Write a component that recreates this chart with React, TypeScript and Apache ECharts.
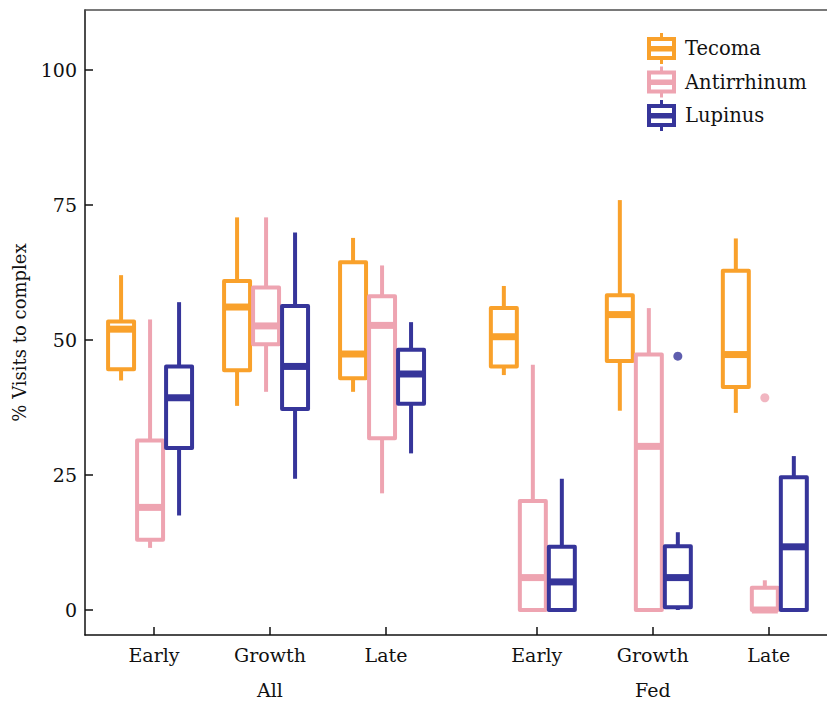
import React, { useEffect, useRef } from "react";
import * as echarts from "echarts";

// ---- data ----
const CATEGORIES = ["Early", "Growth", "Late", "Early", "Growth", "Late"];
const CAT_POS = [1, 2, 3, 4.3, 5.3, 6.3];
const GROUPS = ["All", "Fed"];
const GROUP_POS = [2, 5.3];
const Y_TICKS = [0, 25, 50, 75, 100];
const SPECIES = ["Tecoma", "Antirrhinum", "Lupinus"];

// [min, q1, median, q3, max] per category
const tecoma = [
  [42.5, 44.6, 52.0, 53.4, 62.0],
  [37.8, 44.4, 56.1, 60.9, 72.7],
  [40.4, 42.9, 47.4, 64.4, 68.9],
  [43.5, 45.1, 50.6, 55.9, 60.0],
  [36.9, 46.1, 54.7, 58.3, 75.9],
  [36.5, 41.3, 47.3, 62.8, 68.8],
];
const antirrhinum = [
  [11.5, 13.0, 19.0, 31.4, 53.8],
  [40.4, 49.2, 52.6, 59.7, 72.7],
  [21.6, 31.8, 52.7, 58.1, 63.8],
  [0, 0, 6.0, 20.2, 45.4],
  [0, 0, 30.3, 47.3, 55.9],
  [0, 0, 0, 4.1, 5.5],
];
const lupinus = [
  [17.5, 30.0, 39.3, 45.1, 57.0],
  [24.3, 37.2, 45.1, 56.3, 69.9],
  [29.0, 38.2, 43.7, 48.2, 53.3],
  [0, 0, 5.2, 11.7, 24.3],
  [0, 0.5, 6.0, 11.8, 14.4],
  [0, 0, 11.7, 24.6, 28.5],
];
// outliers: [category index, value]
const tecomaOutliers: number[][] = [];
const antirrhinumOutliers = [[5, 39.3]];
const lupinusOutliers = [[4, 47.0]];

const COLORS = ["#f9a12b", "#eea4b1", "#36359a"];
const OFFSETS = [-0.284, -0.034, 0.216];
const BOX_W = 0.224;

const LEGEND_ICON =
  "path://M0,4 L29,4 L29,27 L0,27 Z M4,8 L4,13 L25,13 L25,8 Z M4,18.5 L4,23 L25,23 L25,18.5 Z M13,0 L16,0 L16,4 L13,4 Z M13,27 L16,27 L16,31 L13,31 Z";

const FONT = "DejaVu Serif";

export default function App() {
  const ref = useRef<HTMLDivElement>(null);
  useEffect(() => {
    if (!ref.current) return;
    const chart = echarts.init(ref.current, undefined, { renderer: "svg" });
    const stats = [tecoma, antirrhinum, lupinus];
    const outs = [tecomaOutliers, antirrhinumOutliers, lupinusOutliers];

    const findName = (v: number, pos: number[], names: string[]) => {
      for (let i = 0; i < pos.length; i++) if (Math.abs(pos[i] - v) < 1e-6) return names[i];
      return "";
    };

    const xMin = 0.405;
    const xMax = 6.802;

    const boxSeries = SPECIES.map((name, s) => ({
      type: "custom",
      name,
      xAxisIndex: 0,
      yAxisIndex: 0,
      itemStyle: { color: COLORS[s] },
      encode: { x: 0, y: [1, 2, 3, 4, 5] },
      data: stats[s].map((row, i) => [CAT_POS[i] + OFFSETS[s], ...row]),
      renderItem: (params: any, api: any) => {
        const x = api.value(0);
        const cx = api.coord([x, 0])[0];
        const y = [1, 2, 3, 4, 5].map((k) => api.coord([x, api.value(k)])[1]);
        const hw = api.size([BOX_W, 0])[0] / 2;
        const c = COLORS[s];
        return {
          type: "group",
          children: [
            {
              type: "line",
              shape: { x1: cx, y1: y[4], x2: cx, y2: y[3] },
              style: { stroke: c, lineWidth: 4 },
            },
            {
              type: "line",
              shape: { x1: cx, y1: y[1], x2: cx, y2: y[0] },
              style: { stroke: c, lineWidth: 4 },
            },
            {
              type: "rect",
              shape: { x: cx - hw, y: y[3], width: hw * 2, height: y[1] - y[3] },
              style: { fill: "#fff", stroke: c, lineWidth: 4, lineJoin: "round" },
            },
            {
              type: "line",
              shape: { x1: cx - hw, y1: y[2], x2: cx + hw, y2: y[2] },
              style: { stroke: c, lineWidth: 7 },
            },
          ],
        };
      },
    }));

    const outlierSeries = SPECIES.map((name, s) => ({
      type: "scatter",
      name,
      xAxisIndex: 0,
      yAxisIndex: 0,
      symbol: "circle",
      symbolSize: 9,
      itemStyle: { color: COLORS[s] },
      data: outs[s].map(([ci, v]) => [CAT_POS[ci] + OFFSETS[s], v]),
    }));

    chart.setOption({
      animation: false,
      backgroundColor: "#fff",
      grid: { left: 85, right: 0, top: 10, bottom: 67, containLabel: false },
      legend: {
        orient: "vertical",
        left: 647,
        top: 33,
        padding: 0,
        itemWidth: 29,
        itemHeight: 31,
        itemGap: 2.5,
        selectedMode: false,
        itemStyle: { borderWidth: 0 },
        textStyle: { fontFamily: FONT, fontSize: 19.5, color: "#111", padding: [0, 0, 0, 4] },
        data: SPECIES.map((n, s) => ({ name: n, icon: LEGEND_ICON, itemStyle: { color: COLORS[s] } })),
      },
      xAxis: [
        {
          type: "value",
          min: xMin,
          max: xMax,
          position: "bottom",
          splitLine: { show: false },
          axisLine: { show: true, onZero: false, lineStyle: { color: "#111", width: 1.5 } },
          axisTick: { show: true, inside: true, length: 8, lineStyle: { color: "#111", width: 1.5 }, customValues: CAT_POS },
          axisLabel: {
            customValues: CAT_POS,
            margin: 10,
            fontFamily: FONT,
            fontSize: 19,
            color: "#111",
            formatter: (v: number) => findName(v, CAT_POS, CATEGORIES),
          },
        },
        {
          type: "value",
          min: xMin,
          max: xMax,
          position: "bottom",
          offset: 35,
          splitLine: { show: false },
          axisLine: { show: false, onZero: false },
          axisTick: { show: false },
          axisLabel: {
            customValues: GROUP_POS,
            margin: 10,
            fontFamily: FONT,
            fontSize: 19,
            color: "#111",
            formatter: (v: number) => findName(v, GROUP_POS, GROUPS),
          },
        },
        {
          type: "value",
          min: xMin,
          max: xMax,
          position: "top",
          splitLine: { show: false },
          axisLine: { show: true, onZero: false, lineStyle: { color: "#4d4d4d", width: 1.5 } },
          axisTick: { show: false },
          axisLabel: { show: false },
        },
      ],
      yAxis: {
        type: "value",
        min: -4.63,
        max: 111.1,
        name: "% Visits to complex",
        nameLocation: "middle",
        nameGap: 57,
        nameTextStyle: { fontFamily: FONT, fontSize: 18, color: "#111", padding: [0, 20, 0, 0] },
        splitLine: { show: false },
        axisLine: { show: true, onZero: false, lineStyle: { color: "#111", width: 1.5 } },
        axisTick: { show: true, inside: true, length: 8, lineStyle: { color: "#111", width: 1.5 }, customValues: Y_TICKS },
        axisLabel: {
          customValues: Y_TICKS,
          margin: 8,
          fontFamily: FONT,
          fontSize: 19,
          color: "#111",
        },
      },
      series: [...boxSeries, ...outlierSeries],
    });
    return () => chart.dispose();
  }, []);
  return <div ref={ref} style={{ width: 827, height: 702, position: "absolute", left: 0, top: 0 }} />;
}
